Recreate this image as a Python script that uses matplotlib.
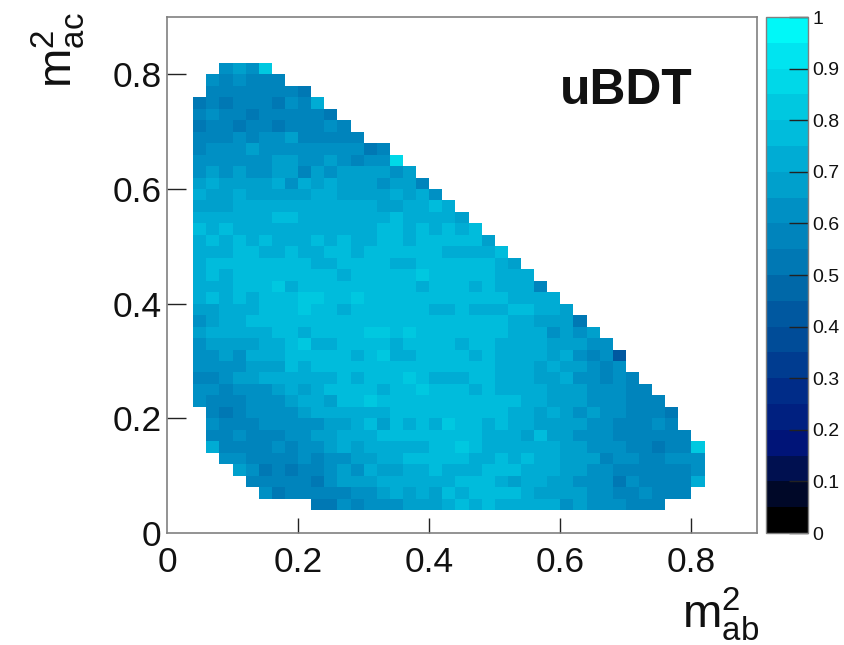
import numpy as np
import matplotlib
matplotlib.use("Agg")
import matplotlib.pyplot as plt
from matplotlib.colors import ListedColormap, BoundaryNorm

plt.rcParams['font.family'] = ['Liberation Sans', 'DejaVu Sans']
plt.rcParams['mathtext.fontset'] = 'custom'
plt.rcParams['mathtext.rm'] = 'Liberation Sans'
plt.rcParams['mathtext.it'] = 'Liberation Sans'

# efficiency (percent) per bin; key = y-bin index, first x-bin given in row_start
rows = {
40: [62,67,62,82],
39: [62,57,62,57,57,57],
38: [57,57,57,57,57,57,57,52],
37: [52,57,52,57,57,57,52,62,57,72],
36: [57,62,57,57,52,57,57,57,57,57,52],
35: [52,57,57,52,57,57,52,57,57,57,62,57],
34: [57,57,57,62,57,62,62,67,57,57,57,57,57],
33: [57,62,62,62,67,62,62,62,62,62,62,62,62,52,57],
32: [62,62,62,62,62,62,67,67,62,62,67,62,57,62,62,87],
31: [62,67,62,67,62,62,67,67,57,67,62,67,67,67,67,62,67],
30: [67,72,67,67,67,67,72,62,72,67,72,67,67,67,62,67,67,57],
29: [72,67,67,72,67,67,67,67,67,72,72,67,67,67,67,72,67,72,62],
28: [67,67,67,72,72,72,72,72,72,72,72,72,72,72,67,67,72,72,77,72],
27: [72,72,72,72,72,72,77,77,72,72,72,72,72,72,72,77,72,72,72,72,67],
26: [77,72,77,72,72,72,72,72,72,72,72,72,72,72,77,77,72,77,72,77,72,77],
25: [72,77,72,77,72,77,72,72,72,77,72,77,72,72,77,77,72,77,77,77,77,77,67],
24: [72,72,72,77,77,72,72,77,72,72,77,77,72,77,77,77,77,77,77,72,72,72,72,77],
23: [72,77,77,77,77,77,77,77,77,72,72,77,77,77,77,72,72,77,77,77,77,77,77,72,67],
22: [72,77,72,77,77,77,77,77,77,77,77,72,77,77,77,77,77,82,77,77,77,77,77,72,72,72],
21: [72,72,72,77,77,77,82,72,77,77,77,77,77,77,77,77,77,72,77,77,77,72,77,72,72,72,57],
20: [72,77,72,77,72,77,77,77,82,82,77,77,82,77,77,77,77,77,77,77,77,77,77,77,72,72,72,72],
19: [67,67,72,72,72,77,77,77,82,77,77,72,77,77,77,77,77,77,72,72,77,72,72,72,77,77,72,72,67],
18: [62,67,72,72,77,77,77,77,77,77,77,77,77,77,77,77,77,77,77,77,77,77,77,77,72,72,67,67,67,52],
17: [67,72,72,72,72,72,77,77,72,77,77,77,77,82,82,77,82,77,77,77,77,77,77,77,72,72,72,62,67,62,67],
16: [62,67,67,67,67,72,72,77,82,72,72,77,77,77,77,72,77,77,77,77,72,77,77,72,72,72,72,67,67,67,62,62],
15: [62,62,67,62,72,72,72,77,77,77,77,77,72,77,82,72,72,77,77,77,77,72,77,72,72,72,72,67,72,62,57,62,42],
14: [62,62,62,62,67,67,67,77,72,77,77,77,77,77,77,77,77,77,77,77,77,77,77,72,72,72,67,72,67,67,62,57,62],
13: [57,57,62,67,67,72,72,72,72,72,72,77,72,77,77,77,82,77,72,72,72,77,77,72,72,72,67,67,72,62,62,57,62,57],
12: [62,62,57,62,62,62,67,72,67,72,77,77,77,77,72,77,77,82,77,77,77,72,77,72,72,72,72,67,67,67,62,62,62,57,57],
11: [62,57,57,57,62,62,62,67,72,72,67,77,77,82,77,77,77,77,77,77,77,77,77,77,77,72,72,67,67,67,62,62,62,57,57,57],
}
# rows that do not begin at the same x-bin
rows_low = {
10: [57,52,57,62,62,62,62,67,72,72,72,72,72,72,77,77,77,77,77,77,77,77,77,72,72,67,72,67,62,67,62,62,57,57,57,52],
9: [62,57,57,57,62,62,62,62,62,67,67,72,77,67,77,72,77,72,82,77,77,72,77,72,72,67,67,67,67,62,62,57,57,57,62,57],
8: [57,57,62,57,57,57,62,62,67,67,72,72,72,77,77,77,77,77,77,77,77,72,72,72,67,77,67,67,62,62,62,57,57,57,57,57,57],
7: [72,57,57,57,57,62,57,62,62,67,72,67,72,72,72,72,72,77,77,82,77,72,72,72,72,72,72,67,67,62,62,62,57,57,52,57,57,82],
}
rows_edge = {
6: (4, [62,62,57,57,57,57,62,57,62,62,67,67,72,72,77,77,77,77,77,72,72,77,72,77,72,72,67,67,67,57,62,62,57,57,62,62,62]),
5: (5, [67,62,52,57,52,57,57,62,67,62,72,67,67,72,72,77,72,72,72,77,77,77,72,72,72,67,67,62,62,57,57,57,57,57,57,62]),
4: (6, [57,57,57,57,57,52,62,67,67,67,72,72,72,72,72,72,77,77,77,72,67,72,72,67,67,62,62,62,52,62,57,57,57,57,72]),
3: (7, [62,52,57,57,57,57,57,62,62,67,72,67,72,67,77,72,77,77,77,77,72,67,67,67,67,62,62,57,57,62,57,57,57]),
2: (11, [52,52,62,57,62,62,62,67,67,67,72,77,72,77,72,72,72,72,72,62,67,62,62,62,57,57,57]),
}
first_bin_top = {40: 4, 39: 3, 38: 3}

level_colors = ['#000000','#000828','#001050','#001478','#002080','#002c88','#003c90',
                '#004c98','#0058a0','#0068a8','#0078b4','#0084bc','#0090c4','#00a0cc',
                '#00acd4','#00bcdc','#00c8e0','#00d8e8','#00e4f0','#00f8f8']
edges = np.linspace(0, 0.9, 46)
bounds = np.linspace(0, 1, 21)
tick_values = [0, 0.2, 0.4, 0.6, 0.8]
bar_ticks = np.linspace(0, 1, 11)
bar_labels = ['0','0.1','0.2','0.3','0.4','0.5','0.6','0.7','0.8','0.9','1']

grid = np.full((45, 45), np.nan)
for r, vals in rows.items():
    s = first_bin_top.get(r, 2)
    grid[r, s:s+len(vals)] = np.array(vals) / 100
for r, vals in rows_low.items():
    grid[r, 3:3+len(vals)] = np.array(vals) / 100
for r, (s, vals) in rows_edge.items():
    grid[r, s:s+len(vals)] = np.array(vals) / 100

W, H = 844, 645
fig = plt.figure(figsize=(W/100, H/100), dpi=100)
ax = fig.add_axes([167/W, 1-533/H, 590/W, 516/H])
cmap = ListedColormap(level_colors)
norm = BoundaryNorm(bounds, cmap.N)
mesh = ax.pcolormesh(edges, edges, np.ma.masked_invalid(grid), cmap=cmap, norm=norm, linewidth=0)
ax.set_xlim(0, 0.9); ax.set_ylim(0, 0.9)
ax.set_xticks(tick_values); ax.set_yticks(tick_values)
ax.set_xticklabels(['0','0.2','0.4','0.6','0.8'])
ax.set_yticklabels(['0','0.2','0.4','0.6','0.8'])
ax.tick_params(axis='x', direction='in', length=11, width=1, labelsize=25.5, pad=9, color='#222222', labelcolor='#111111')
ax.tick_params(axis='y', direction='in', length=14, width=1, labelsize=25.5, pad=4, color='#222222', labelcolor='#111111')
ax.xaxis.get_major_ticks()[0].tick1line.set_visible(False)
ax.yaxis.get_major_ticks()[0].tick1line.set_visible(False)
for s in ax.spines.values():
    s.set_color('#808080'); s.set_linewidth(1.2)

fig.text(682/W, 1-628/H, r'$\mathrm{m}_{\mathrm{ab}}^{2}$', fontsize=34, ha='left', va='baseline', color='#111111')
fig.text(58/W, 1-88/H, r'$\mathrm{m}_{\mathrm{ac}}^{2}$', fontsize=34, rotation=90, ha='center', va='bottom', color='#111111')
ax.text(560/W, 1-103.5/H, 'uBDT', transform=fig.transFigure, fontsize=35.8, fontweight='bold', color='#111111', ha='left', va='baseline')

cax = fig.add_axes([766/W, 1-533/H, 42/W, 516/H])
cb = fig.colorbar(mesh, cax=cax, spacing='proportional', drawedges=False)
cb.set_ticks(bar_ticks)
cb.set_ticklabels(bar_labels)
cax.minorticks_off()
cax.tick_params(axis='y', direction='in', length=14, width=1, labelsize=14, pad=3, color='#222222', labelcolor='#111111')
cb.outline.set_edgecolor('#808080'); cb.outline.set_linewidth(1)

fig.savefig('out.png', dpi=100)
